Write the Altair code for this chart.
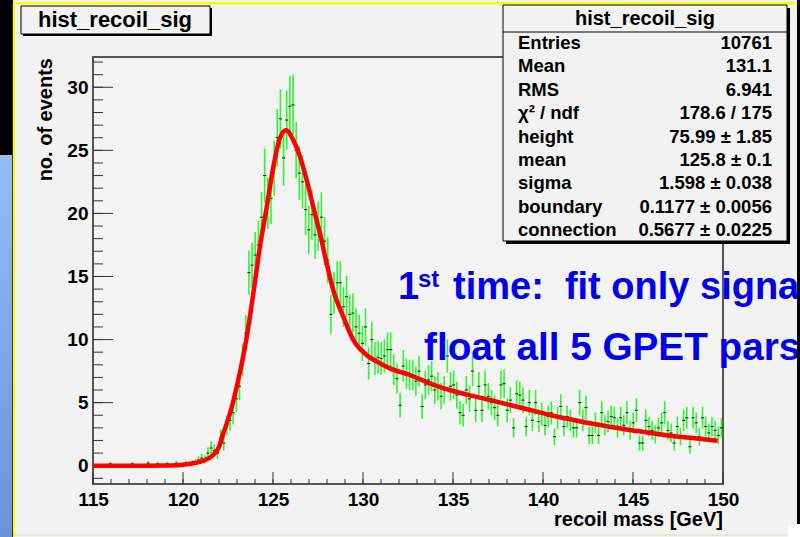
import altair as alt
import pandas as pd

FONT = "Liberation Sans"

# ---------------- data ----------------
BIN_LO = 115.0
BIN_W = 0.175  # 200 bins over 115-150 GeV

counts = [
    0, 0, 0, 0, 0, 0.15, 0, 0, 0, 0,
    0, 0, 0.15, 0, 0, 0, 0, 0.2, 0, 0,
    0.15, 0, 0, 0.15, 0, 0, 0.2, 0, 0, 0.2,
    0, 0.25, 0.3, 0.45, 0.6, 0.5, 1.0, 1.4, 1.2, 1.0,
    2.2, 1.8, 3.2, 3.6, 4.2, 5.3, 6.3, 8.4, 10.5, 15.3,
    15.9, 16.7, 17.5, 19.7, 23.0, 20.8, 21.2, 23.6, 26.0, 27.5,
    24.4, 27.4, 28.5, 28.6, 25.0, 23.2, 22.5, 20.3, 18.7, 19.9,
    18.3, 19.0, 19.7, 17.8, 16.3, 12.0, 13.7, 14.5, 14.5, 12.6,
    13.4, 12.0, 12.1, 11.0, 10.5, 9.7, 11.0, 8.1, 10.0, 8.5,
    8.6, 8.5, 8.7, 9.2, 9.2, 7.6, 6.9, 4.8, 7.9, 7.3,
    7.2, 7.2, 6.7, 7.5, 4.7, 6.4, 6.8, 7.1, 6.0, 6.3,
    5.5, 6.0, 8.7, 6.3, 6.4, 5.6, 4.2, 4.0, 6.0, 5.3,
    7.5, 4.4, 6.3, 4.4, 6.4, 5.5, 5.0, 4.6, 4.0, 6.4,
    6.5, 4.4, 5.2, 3.0, 5.7, 5.6, 5.2, 3.1, 5.0, 3.6,
    5.0, 3.5, 4.1, 3.2, 3.9, 4.2, 2.3, 3.8, 4.7, 3.1,
    3.9, 3.6, 3.0, 3.0, 5.0, 3.6, 4.6, 2.4, 2.4, 3.4,
    2.4, 4.2, 3.2, 3.5, 3.9, 3.8, 3.0, 3.8, 3.2, 4.2,
    2.8, 3.4, 4.4, 1.8, 1.8, 3.6, 3.1, 2.8, 2.5, 3.0,
    3.4, 4.2, 2.8, 2.6, 1.8, 3.1, 2.3, 3.6, 3.8, 1.5,
    3.8, 3.4, 2.3, 3.8, 3.1, 2.6, 3.1, 2.8, 2.4, 3.0,
]

errors = [
    0, 0, 0, 0, 0, 0.17, 0, 0, 0, 0,
    0, 0, 0.17, 0, 0, 0, 0, 0.2, 0, 0,
    0.17, 0, 0, 0.17, 0, 0, 0.2, 0, 0, 0.2,
    0, 0.22, 0.24, 0.3, 0.35, 0.32, 0.45, 0.53, 0.49, 0.45,
    0.66, 0.6, 0.8, 0.85, 0.92, 1.03, 1.12, 1.3, 1.45, 1.75,
    1.78, 1.83, 1.87, 1.98, 2.14, 2.04, 2.06, 2.17, 2.28, 2.35,
    2.21, 2.34, 2.39, 2.39, 2.24, 2.15, 2.12, 2.01, 1.93, 1.99,
    1.91, 1.95, 1.98, 1.89, 1.81, 1.55, 1.66, 1.7, 1.7, 1.59,
    1.64, 1.55, 1.56, 1.48, 1.45, 1.39, 1.48, 1.27, 1.41, 1.3,
    1.31, 1.3, 1.32, 1.36, 1.36, 1.23, 1.17, 0.98, 1.26, 1.21,
    1.2, 1.2, 1.16, 1.22, 0.97, 1.13, 1.17, 1.19, 1.1, 1.12,
    1.05, 1.1, 1.32, 1.12, 1.13, 1.06, 0.92, 0.89, 1.1, 1.03,
    1.22, 0.94, 1.12, 0.94, 1.13, 1.05, 1.0, 0.96, 0.89, 1.13,
    1.14, 0.94, 1.02, 0.77, 1.07, 1.06, 1.02, 0.79, 1.0, 0.85,
    1.0, 0.84, 0.91, 0.8, 0.88, 0.92, 0.68, 0.87, 0.97, 0.79,
    0.88, 0.85, 0.77, 0.77, 1.0, 0.85, 0.96, 0.69, 0.69, 0.82,
    0.69, 0.92, 0.8, 0.84, 0.88, 0.87, 0.77, 0.87, 0.8, 0.92,
    0.75, 0.82, 0.94, 0.6, 0.6, 0.85, 0.79, 0.75, 0.71, 0.77,
    0.82, 0.92, 0.75, 0.72, 0.6, 0.79, 0.68, 0.85, 0.87, 0.55,
    0.87, 0.82, 0.68, 0.87, 0.79, 0.72, 0.79, 0.75, 0.69, 0.77,
]

fit_mass = [115.0, 116.0, 117.0, 118.0, 119.0, 119.83, 120.4, 120.94, 121.3,
            121.68, 122.0, 122.24, 122.61, 123.07, 123.54, 123.91, 124.28,
            124.65, 125.02, 125.39, 125.72, 126.13, 126.5, 126.87, 127.24,
            127.61, 127.98, 128.35, 128.91, 129.46, 130.2, 130.94, 131.5,
            132.6, 133.7, 134.8, 135.9, 137.06, 138.17, 139.28, 140.39,
            141.5, 142.6, 143.7, 144.8, 145.9, 147.06, 148.17, 149.7]
fit_value = [0.0, 0.0, 0.0, 0.0, 0.01, 0.05, 0.15, 0.3, 0.5,
             0.85, 1.5, 2.57, 4.15, 6.8, 10.2, 13.7, 17.4,
             20.5, 23.7, 26.0, 26.6, 25.8, 24.5, 22.65, 20.5,
             18.4, 16.05, 13.9, 11.8, 9.97, 8.78, 8.12, 7.72,
             7.19, 6.53, 6.0, 5.6, 5.21, 4.81, 4.42, 4.02,
             3.68, 3.36, 3.09, 2.83, 2.62, 2.38, 2.22, 1.98]

x_major = [115, 120, 125, 130, 135, 140, 145, 150]
x_minor = list(range(115, 151))
y_major = [0, 5, 10, 15, 20, 25, 30]
y_minor = list(range(-1, 33))

stat_title = "hist_recoil_sig"
stat_labels = ["Entries", "Mean", "RMS", "χ² / ndf", "height", "mean",
               "sigma", "boundary", "connection"]
stat_values = ["10761", "131.1", "6.941", "178.6 / 175", "75.99 ± 1.85",
               "125.8 ± 0.1", "1.598 ± 0.038", "0.1177 ± 0.0056",
               "0.5677 ± 0.0225"]
hist_title = "hist_recoil_sig"
x_title = "recoil mass [GeV]"
y_title = "no. of events"
note1_a, note1_b, note1_c = "1", "st", "time:\u00a0 fit only signa"
note2 = "float all 5 GPET pars"

# ---------------- layout ----------------
LEFT, TOP = 93, 57
W, H = 630, 427


def px(ax):
    return ax - LEFT


def py(ay):
    return ay - TOP


dummy = pd.DataFrame({"d": [0]})

xsc = alt.Scale(domain=[115, 150], nice=False, zero=False)
ysc = alt.Scale(domain=[-1.45, 32.4], nice=False, zero=False)

x_axis = alt.Axis(values=x_major, format="d", title=None, ticks=False, tickSize=0,
                  domain=False, grid=False, labelFont=FONT, labelFontWeight="bold",
                  labelFontSize=19, labelColor="#000000", labelPadding=6,
                  labelFlush=False, labelOverlap=False)
y_axis = alt.Axis(values=y_major, format="d", title=None, ticks=False, tickSize=0,
                  domain=False, grid=False, labelFont=FONT, labelFontWeight="bold",
                  labelFontSize=19, labelColor="#000000", labelPadding=5,
                  labelFlush=False, labelOverlap=False)


def rect(x1, y1, x2, y2, **kw):
    return alt.Chart(dummy).mark_rect(**kw).encode(
        x=alt.value(px(x1)), x2=alt.value(px(x2)),
        y=alt.value(py(y1)), y2=alt.value(py(y2)))


def text(s, ax, ay, size, align="left", color="#000000", angle=0):
    kw = dict(font=FONT, fontWeight="bold", fontSize=size, align=align,
              baseline="alphabetic", color=color)
    if angle:
        kw["angle"] = angle
    return alt.Chart(dummy).mark_text(**kw).encode(
        x=alt.value(px(ax)), y=alt.value(py(ay)), text=alt.value(s))


layers = []

# slide decorations around the canvas
layers.append(rect(0, 0, 13, 155, color="#000000"))
layers.append(rect(0, 155, 13, 537, color={
    "gradient": "linear", "x1": 0, "x2": 0, "y1": 0, "y2": 1,
    "stops": [{"offset": 0, "color": "#93bdf7"}, {"offset": 1, "color": "#6794da"}]}))
layers.append(rect(12, 3, 13, 537, color="#333333"))
layers.append(rect(13, 3, 15, 537, color="#ffff00"))
layers.append(rect(13, 2, 797, 4.5, color="#ffff00"))
layers.append(rect(14, 534, 788, 536, color="#e4ebc4"))

# tick marks (inside the frame, ROOT style)
tick_col = "#333333"
layers.append(alt.Chart(pd.DataFrame({"v": y_minor})).mark_rule(color=tick_col, strokeWidth=1).encode(
    y=alt.Y("v:Q", scale=ysc, axis=y_axis), x=alt.value(0), x2=alt.value(10)))
layers.append(alt.Chart(pd.DataFrame({"v": y_major})).mark_rule(color=tick_col, strokeWidth=1).encode(
    y=alt.Y("v:Q", scale=ysc, axis=y_axis), x=alt.value(0), x2=alt.value(20)))
layers.append(alt.Chart(pd.DataFrame({"m": x_minor})).mark_rule(color=tick_col, strokeWidth=1).encode(
    x=alt.X("m:Q", scale=xsc, axis=x_axis), y=alt.value(H), y2=alt.value(H - 5)))
layers.append(alt.Chart(pd.DataFrame({"m": x_major})).mark_rule(color=tick_col, strokeWidth=1).encode(
    x=alt.X("m:Q", scale=xsc, axis=x_axis), y=alt.value(H), y2=alt.value(H - 12)))

# histogram points
centers = [BIN_LO + BIN_W * (i + 0.5) for i in range(len(counts))]
hist = pd.DataFrame({"m": centers, "v": counts, "e": errors})
hist = hist[hist["v"] > 0].copy()
hist["lo"] = hist["v"] - hist["e"]
hist["hi"] = hist["v"] + hist["e"]
hist["ml"] = hist["m"] - BIN_W / 2
hist["mh"] = hist["m"] + BIN_W / 2

layers.append(alt.Chart(hist).mark_rule(color="#2ef52e", strokeWidth=1.6).encode(
    x=alt.X("m:Q", scale=xsc, axis=x_axis),
    y=alt.Y("lo:Q", scale=ysc, axis=y_axis), y2="hi:Q"))
layers.append(alt.Chart(hist).mark_rule(color="#1a1a1a", strokeWidth=1).encode(
    x=alt.X("ml:Q", scale=xsc, axis=x_axis), x2="mh:Q",
    y=alt.Y("v:Q", scale=ysc, axis=y_axis)))

# fit curve
fit = pd.DataFrame({"m": fit_mass, "v": fit_value})
layers.append(alt.Chart(fit).mark_line(color="#ff0000", strokeWidth=4.5, interpolate="monotone").encode(
    x=alt.X("m:Q", scale=xsc, axis=x_axis), y=alt.Y("v:Q", scale=ysc, axis=y_axis)))

# axis titles
layers.append(text(y_title, 52, 58, 20, align="right", angle=270))
layers.append(text(x_title, 723, 526, 20, align="right"))

# title box
layers.append(rect(23, 8, 212, 36, color="#000000"))
layers.append(rect(21, 6, 210, 34, fill="#f2f2f2", stroke="#000000", strokeWidth=1))
layers.append(text(hist_title, 115, 27, 22, align="center"))

# stats box
layers.append(rect(506, 8, 790, 244, color="#000000"))
layers.append(rect(503, 5, 787, 241, fill="#f2f2f2", stroke="#000000", strokeWidth=1))
layers.append(rect(503, 31.5, 787, 32.5, color="#000000"))
layers.append(text(stat_title, 645, 24.5, 20, align="center"))
for i, (lab, val) in enumerate(zip(stat_labels, stat_values)):
    yb = 49 + 23.4 * i
    layers.append(text(lab, 518, yb, 18.5, align="left"))
    layers.append(text(val, 772, yb, 18.5, align="right"))

# annotation
blue = "#0000f0"
layers.append(text(note1_a, 398, 299, 38, color=blue))
layers.append(text(note1_b, 418, 287, 24, color=blue))
layers.append(text(note1_c, 453, 299, 38, color=blue))
layers.append(text(note2, 424, 360, 38.7, color=blue))

# right black strip and corner
layers.append(rect(797, 0, 800, 524, color="#000000"))
layers.append(rect(788, 525, 800, 537, color="#ffffff"))

chart = alt.layer(*layers).properties(
    width=W, height=H,
    padding={"left": LEFT, "top": TOP, "right": 800 - LEFT - W, "bottom": 537 - TOP - H},
    autosize=alt.AutoSizeParams(type="none"),
    background="#f2f2f2",
).configure_view(fill="#f3f3f3", stroke="#555555", strokeWidth=2)

chart.save("out.html", embed_options={"renderer": "svg", "actions": False})
